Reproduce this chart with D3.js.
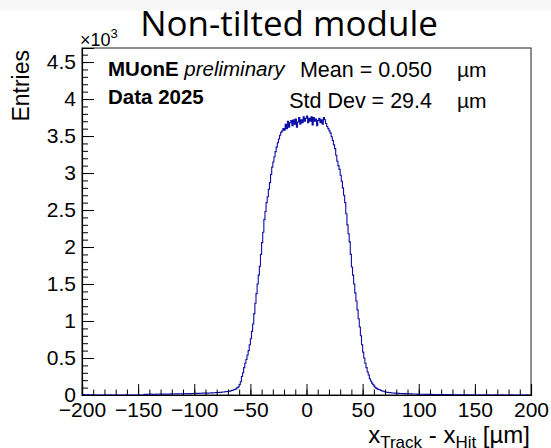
<!DOCTYPE html>
<html><head><meta charset="utf-8">
<script src="https://cdn.jsdelivr.net/npm/d3@7"></script>
<style>body{margin:0;background:#fff}svg{display:block}</style>
</head><body>
<script>
// ---------- data (values in units of 10^3 entries, 1 um bins from -200 to 200) ----------
const binStart = -200;
const binWidth = 1;
const counts = [
 0.005,0,0.005,0,0,0.005,0,0,0,0.005, 0,0,0,0,0,0,0,0,0,0,
 0,0,0,0,0,0.003,0,0,0,0, 0,0,0,0,0,0,0,0,0,0.003,
 0,0,0,0,0,0,0,0,0,0, 0,0,0,0,0,0.005,0.008,0.01,0.008,0.01,
 0.01,0.012,0.01,0.009,0.011,0.01,0.012,0.01,0.011,0.013, 0.01,0.012,0.011,0.013,0.012,0.01,0.014,0.012,0.013,0.015,
 0.014,0.013,0.015,0.016,0.014,0.016,0.015,0.017,0.016,0.015, 0.018,0.016,0.017,0.019,0.018,0.02,0.019,0.018,0.02,0.021,
 0.02,0.022,0.021,0.023,0.022,0.024,0.023,0.025,0.024,0.026, 0.025,0.027,0.026,0.028,0.027,0.03,0.029,0.031,0.03,0.032,
 0.033,0.034,0.036,0.035,0.038,0.04,0.041,0.043,0.045,0.047, 0.05,0.053,0.056,0.06,0.065,0.07,0.076,0.085,0.1,0.11,
 0.14,0.18,0.25,0.3,0.37,0.43,0.48,0.54,0.6,0.68, 0.76,0.86,0.96,1.1,1.24,1.37,1.5,1.62,1.74,1.9,
 2.06,2.2,2.37,2.48,2.6,2.68,2.78,2.87,2.98,3.08, 3.15,3.22,3.29,3.35,3.41,3.46,3.51,3.55,3.57,3.6,
 3.58,3.66,3.6,3.7,3.62,3.68,3.71,3.64,3.72,3.66, 3.73,3.62,3.69,3.75,3.66,3.72,3.68,3.76,3.7,3.74,
 3.77,3.68,3.74,3.7,3.76,3.65,3.75,3.7,3.73,3.64, 3.71,3.74,3.68,3.72,3.66,3.75,3.72,3.67,3.63,3.6,
 3.57,3.54,3.49,3.44,3.38,3.33,3.24,3.16,3.1,3.05, 2.97,2.89,2.8,2.7,2.6,2.45,2.3,2.18,2.07,1.9,
 1.73,1.62,1.5,1.38,1.27,1.15,1.03,0.92,0.8,0.68, 0.58,0.5,0.43,0.37,0.31,0.27,0.22,0.19,0.16,0.14,
 0.12,0.1,0.09,0.08,0.075,0.07,0.06,0.055,0.05,0.045, 0.04,0.038,0.036,0.034,0.032,0.03,0.028,0.027,0.026,0.025,
 0.024,0.023,0.022,0.021,0.02,0.02,0.019,0.018,0.018,0.017, 0.016,0.016,0.015,0.015,0.014,0.014,0.013,0.013,0.012,0.012,
 0.011,0.011,0.01,0.01,0.01,0.009,0.009,0.009,0.008,0.008, 0.008,0.008,0.007,0.007,0.007,0.007,0.007,0.006,0.006,0.006,
 0.006,0.006,0.006,0.005,0.005,0.005,0.005,0.005,0.005,0.005, 0.004,0.004,0.004,0.004,0.004,0.004,0.004,0.004,0.003,0.003,
 0.003,0,0.003,0,0.003,0,0,0.003,0,0, 0.003,0,0,0,0.003,0,0,0,0.003,0,
 0,0,0.003,0,0,0,0,0,0.003,0, 0,0,0,0,0.003,0,0,0,0,0,
 0,0,0.003,0,0,0,0,0,0,0, 0,0,0,0,0,0,0.003,0,0,0
];
const xTicks = [-200,-150,-100,-50,0,50,100,150,200];
const yTicks = [0,0.5,1,1.5,2,2.5,3,3.5,4,4.5];
const xDomain = [-200,200];
const yDomain = [0,4.69];
const title = "Non-tilted module";
const statLabels = ["Mean = 0.050","Std Dev = 29.4"];
const statUnit = "\u00b5m";

// ---------- layout ----------
const W = 551, H = 448;
const L = 82, R = 531, T = 48, B = 395;
const svg = d3.select("body").append("svg").attr("width",W).attr("height",H);
svg.append("rect").attr("width",W).attr("height",H).attr("fill","#fff");
svg.append("rect").attr("width",W).attr("height",10).attr("fill","#f6f6f6");

const x = d3.scaleLinear().domain(xDomain).range([L,R]);
const y = d3.scaleLinear().domain(yDomain).range([B,T]);
const FONT = "'Liberation Sans', Arial, Helvetica, sans-serif";

// frame
svg.append("rect").attr("x",L).attr("y",T).attr("width",R-L).attr("height",B-T)
  .attr("fill","none").attr("stroke","#444").attr("stroke-width",1.2);

// histogram step path
const path = d3.path();
counts.forEach((v,i)=>{
  const x0 = x(binStart+i*binWidth), x1 = x(binStart+(i+1)*binWidth), yy = y(v);
  if(i===0) path.moveTo(x0,yy); else path.lineTo(x0,yy);
  path.lineTo(x1,yy);
});
svg.append("path").attr("d",path.toString()).attr("fill","none")
  .attr("stroke","#0c0ca6").attr("stroke-width",1.1);

// x axis
const xMinor = d3.range(-200,201,10);
svg.append("g").attr("transform",`translate(0,${B})`)
  .call(d3.axisBottom(x).tickValues(xMinor).tickSize(-5.5).tickFormat(""))
  .call(g=>g.select(".domain").remove());
const gx = svg.append("g").attr("transform",`translate(0,${B})`)
  .call(d3.axisBottom(x).tickValues(xTicks).tickSize(-11).tickPadding(7)
    .tickFormat(d=>d<0?"\u2212"+Math.abs(d):d));
gx.select(".domain").attr("stroke","#000").attr("stroke-width",1.2);
gx.selectAll("text").attr("font-family",FONT).attr("font-size",21).attr("fill","#000");
gx.selectAll("line").attr("stroke","#000");

// y axis
const yMinor = d3.range(0,47).map(d=>d/10);
svg.append("g").attr("transform",`translate(${L},0)`)
  .call(d3.axisLeft(y).tickValues(yMinor).tickSize(-6).tickFormat(""))
  .call(g=>g.select(".domain").remove());
const gy = svg.append("g").attr("transform",`translate(${L},0)`)
  .call(d3.axisLeft(y).tickValues(yTicks).tickSize(-12).tickPadding(6).tickFormat(d3.format("")));
gy.select(".domain").attr("stroke","#000").attr("stroke-width",1.2);
gy.selectAll("text").attr("font-family",FONT).attr("font-size",21).attr("fill","#000");
gy.selectAll("line").attr("stroke","#000");

// exponent label
const ex = svg.append("text").attr("x",80).attr("y",46).attr("font-family",FONT).attr("font-size",18);
ex.append("tspan").text("\u00d710");
ex.append("tspan").attr("dy",-8).attr("font-size",13).text("3");

// axis titles
svg.append("text").attr("transform",`translate(29,50) rotate(-90)`).attr("text-anchor","end")
  .attr("font-family",FONT).attr("font-size",23).text("Entries");
const xt = svg.append("text").attr("x",530).attr("y",443).attr("text-anchor","end")
  .attr("font-family",FONT).attr("font-size",24);
xt.append("tspan").text("x");
xt.append("tspan").attr("dy",5).attr("font-size",17).text("Track");
xt.append("tspan").attr("dy",-5).text(" - x");
xt.append("tspan").attr("dy",5).attr("font-size",17).text("Hit");
xt.append("tspan").attr("dy",-5).text(" [\u00b5m]");

// title
svg.append("text").attr("x",289).attr("y",36).attr("text-anchor","middle")
  .attr("font-family","'Open Sans', 'Noto Sans', sans-serif").attr("font-size",35)
  .text(title);

// labels
const t1 = svg.append("text").attr("x",108).attr("y",76).attr("font-family",FONT).attr("font-size",20.5);
t1.append("tspan").attr("font-weight","bold").text("MUonE ");
t1.append("tspan").attr("font-style","italic").text("preliminary");
svg.append("text").attr("x",108).attr("y",104).attr("font-family",FONT).attr("font-size",20.5)
  .attr("font-weight","bold").text("Data 2025");

// stats
const statY = [77,108];
statLabels.forEach((s,i)=>{
  svg.append("text").attr("x",432).attr("y",statY[i]).attr("text-anchor","end")
    .attr("font-family",FONT).attr("font-size",21.5).text(s);
  svg.append("text").attr("x",457).attr("y",statY[i])
    .attr("font-family",FONT).attr("font-size",21).text(statUnit);
});
</script>
</body></html>
